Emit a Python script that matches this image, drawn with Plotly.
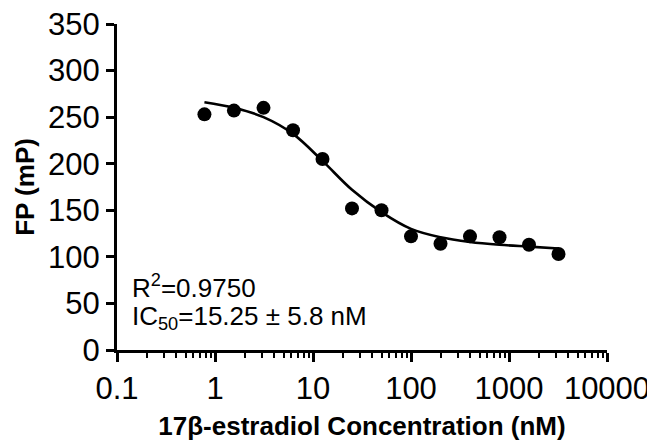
import plotly.graph_objects as go

# Measured data (17β-estradiol concentration in nM, FP in mP)
conc_nM = [0.78, 1.56, 3.125, 6.25, 12.5, 25, 50, 100, 200, 400, 800, 1600, 3200]
fp_mP = [253, 257, 260, 236, 205, 152, 150, 122, 114, 122, 121, 113, 103]

# Fitted curve values at the same concentrations
fit_mP = [266, 260, 250, 232, 203, 172, 148, 130, 121, 116, 113, 111, 109]

x_tickvals = [0.1, 1, 10, 100, 1000, 10000]
x_ticktext = ["0.1", "1", "10", "100", "1000", "10000"]
y_tickvals = [0, 50, 100, 150, 200, 250, 300, 350]

FONT = "Liberation Sans, Arial, sans-serif"

# The page body adds an 8 px margin at top/left, so the figure is sized 8 px smaller
fig = go.Figure()
fig.add_trace(go.Scatter(
    x=conc_nM, y=fit_mP, mode="lines",
    line=dict(color="black", width=2.6, shape="spline", smoothing=1.0),
    hoverinfo="skip", showlegend=False,
))
fig.add_trace(go.Scatter(
    x=conc_nM, y=fp_mP, mode="markers",
    marker=dict(color="black", size=14, symbol="circle"),
    showlegend=False,
))

fig.update_layout(
    width=647, height=434,
    margin=dict(l=109, r=48, t=16, b=92),
    plot_bgcolor="white", paper_bgcolor="white",
    font=dict(family=FONT, color="black"),
    xaxis=dict(
        type="log", range=[-1, 4], automargin=False,
        tickvals=x_tickvals, ticktext=x_ticktext, ticklabeloverflow="allow",
        showgrid=False, zeroline=False,
        showline=True, linecolor="black", linewidth=3,
        ticks="outside", ticklen=9, tickwidth=3, tickcolor="black",
        tickfont=dict(size=31, family=FONT),
        minor=dict(ticks="outside", ticklen=5, tickwidth=2, tickcolor="black",
                   dtick="D1", showgrid=False),
        title=dict(text="<b>17β-estradiol Concentration (nM)</b>",
                   font=dict(size=26, family=FONT), standoff=12),
    ),
    yaxis=dict(
        range=[0, 350], tickvals=y_tickvals, automargin=False,
        ticklabeloverflow="allow",
        showgrid=False, zeroline=False,
        showline=True, linecolor="black", linewidth=3,
        ticks="outside", ticklen=8, tickwidth=3, tickcolor="black",
        tickfont=dict(size=31, family=FONT),
        title=dict(text="<b>FP (mP)</b>", font=dict(size=26, family=FONT), standoff=6),
    ),
    annotations=[
        dict(text="R<sup>2</sup>=0.9750", xref="paper", yref="paper",
             x=0.026, y=0.195, xanchor="left", yanchor="middle",
             showarrow=False, font=dict(size=26, family=FONT)),
        dict(text="IC<sub>50</sub>=15.25 ± 5.8 nM", xref="paper", yref="paper",
             x=0.026, y=0.10, xanchor="left", yanchor="middle",
             showarrow=False, font=dict(size=26, family=FONT)),
    ],
)

fig.write_html("out.html")
